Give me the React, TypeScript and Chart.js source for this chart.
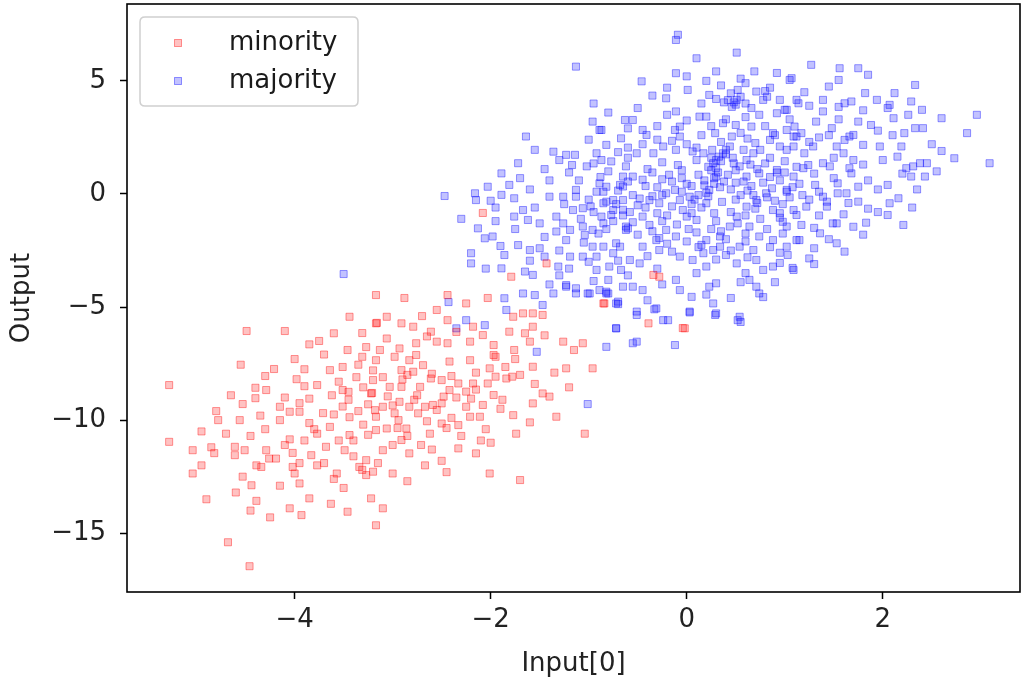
import React, { useEffect, useRef } from "react";
import { Chart, registerables } from "chart.js";

Chart.register(...registerables);

const seriesLabels = ["minority", "majority"];

const minority: number[][] = [
  [-5.28,-8.45],[-5.28,-10.96],[-5.04,-11.33],[-4.85,-11.2],[-4.82,-11.46],[-4.95,-12.0],[-5.04,-12.36],
  [-4.68,-15.4],[-4.46,-16.46],[-4.49,-6.06],[-4.10,-6.06],[-3.60,-6.16],[-3.85,-6.65],[-4.21,-7.74],
  [-3.44,-5.43],[-3.17,-4.47],[-3.46,-6.9],[-3.98,-8.19],[-3.90,-8.5],[-3.77,-8.45],[-4.40,-8.57],
  [-4.29,-8.67],[-4.40,-9.03],[-4.53,-9.29],[-4.78,-10.0],[-4.56,-10.0],[-4.15,-9.41],[-4.05,-9.63],
  [-3.95,-9.63],[-4.15,-10.0],[-3.85,-10.13],[-3.71,-9.69],[-3.64,-7.79],[-3.51,-7.65],[-3.37,-8.1],
  [-3.31,-6.15],[-3.27,-6.77],[-3.31,-7.2],[-3.51,-8.67],[-3.51,-9.4],[-3.44,-9.87],[-3.64,-10.3],
  [-3.21,-8.8],[-3.16,-5.7],[-4.61,-11.18],[-4.61,-11.55],[-4.51,-11.33],[-4.29,-11.33],[-4.26,-11.7],
  [-4.19,-11.7],[-4.39,-12.0],[-4.34,-12.07],[-4.53,-12.5],[-4.44,-12.88],[-4.39,-13.57],[-4.02,-11.45],
  [-4.02,-12.07],[-4.0,-12.36],[-3.95,-11.9],[-3.83,-11.55],[-3.77,-12.0],[-3.68,-11.18],[-3.49,-11.33],
  [-3.57,-12.36],[-3.85,-13.46],[-4.05,-13.9],[-3.93,-14.2],[-3.63,-13.7],[-3.46,-14.05],[-3.31,-12.2],
  [-3.27,-12.43],[-3.34,-12.07],[-3.22,-13.46],[-3.17,-14.65],[-3.9,-10.9],[-3.77,-10.6],[-3.44,-10.66],
  [-3.27,-11.77],[-2.88,-4.6],[-2.44,-4.47],[-2.25,-4.84],[-2.03,-4.6],[-2.55,-5.13],[-2.18,-5.87],
  [-2.44,-5.58],[-3.17,-5.72],[-3.06,-5.43],[-2.91,-5.72],[-2.79,-5.87],[-3.06,-6.39],[-2.93,-6.83],
  [-3.13,-6.9],[-2.76,-6.6],[-2.65,-6.3],[-2.55,-6.53],[-2.44,-6.6],[-2.21,-6.53],[-2.08,-6.24],
  [-1.97,-6.68],[-1.81,-6.09],[-1.65,-6.16],[-1.57,-5.87],[-1.77,-5.43],[-1.67,-5.28],[-1.57,-5.28],
  [-1.47,-5.35],[-0.84,-4.84],[-1.06,-6.6],[-1.26,-6.53],[-0.96,-7.71],[-1.23,-7.71],[-1.33,-9.85],
  [-1.04,-10.6],[-1.60,-6.53],[-1.76,-6.9],[-1.57,-7.64],[-1.78,-8.08],[-1.70,-8.0],[-1.47,-8.82],
  [-1.40,-8.96],[-1.57,-9.26],[-1.77,-9.78],[-1.74,-10.6],[-2.01,-12.36],[-1.70,-12.65],[-2.15,-11.47],
  [-2.33,-11.25],[-2.50,-11.8],[-2.67,-12.0],[-2.71,-11.1],[-2.83,-11.47],[-2.91,-10.88],[-3.0,-12.36],
  [-3.10,-11.33],[-3.20,-12.28],[-3.17,-10.44],[-3.06,-10.37],[-2.94,-10.0],[-2.86,-10.37],[-3.17,-9.85],
  [-3.10,-9.41],[-3.18,-9.56],[-2.83,-9.41],[-2.74,-9.7],[-2.67,-9.41],[-2.93,-9.19],[-2.50,-10.15],
  [-2.33,-10.22],[-2.21,-9.85],[-2.11,-9.85],[-2.25,-9.41],[-2.08,-9.33],[-1.97,-8.89],[-2.59,-9.33],
  [-2.48,-8.96],[-2.50,-9.26],[-2.72,-8.53],[-2.61,-8.16],[-2.50,-8.23],[-2.42,-8.67],[-2.33,-8.38],
  [-2.25,-8.74],[-2.18,-8.38],[-2.03,-8.38],[-1.95,-8.08],[-2.01,-7.71],[-1.84,-8.16],[-2.91,-7.79],
  [-2.79,-7.86],[-2.69,-7.57],[-3.03,-8.53],[-2.91,-8.53],[-3.20,-8.23],[-3.22,-8.82],[-2.42,-7.41],
  [-2.21,-7.35],[-2.83,-7.35],[-2.76,-7.12],[-2.98,-7.2],[-3.17,-7.35],[-1.97,-7.12],[-1.95,-7.2],
  [-2.61,-6.09],[-0.04,-5.93],[-2.08,-0.84],[-1.79,-3.66],[-1.43,-3.07],[-0.85,-4.84],[-0.28,-3.66],
  [-0.34,-3.58],[-0.39,-5.72],[-0.02,-5.94],
  [-3.62,-8.9],[-3.45,-9.1],[-3.35,-9.6],[-3.05,-8.95],[-2.98,-9.7],[-2.85,-10.7],[-3.3,-10.2],
  [-3.55,-10.9],[-3.7,-11.9],[-3.4,-11.6],[-3.0,-11.1],[-2.62,-10.6],[-2.4,-9.9],[-2.3,-10.7],
  [-2.05,-10.4],[-1.88,-9.1],[-2.15,-7.9],[-2.6,-7.95],[-3.1,-8.1],[-3.35,-7.55],[-3.7,-7.1],
  [-4.0,-7.3],[-4.3,-8.05],[-4.65,-8.9],[-4.8,-9.6],[-4.95,-10.5],[-4.7,-10.6],[-4.3,-10.4],
  [-4.05,-10.85],[-3.85,-9.05],[-3.25,-9.3],[-2.75,-8.9],[-2.35,-9.0],[-1.75,-7.3],[-1.55,-8.4],
  [-1.35,-7.9],[-1.2,-8.55],[-1.6,-10.1],[-2.0,-11.0],[-2.45,-12.3],[-2.85,-12.7],[-3.5,-13.0],
  [-3.1,-13.9],[-3.95,-12.8],[-4.15,-12.9],[-4.6,-13.2],[-4.9,-13.5],[-4.45,-14.0],[-4.25,-14.3],
  [-1.15,-6.9],
  [-3.55,-8.3],[-3.3,-8.55],[-3.0,-9.35],[-2.78,-9.1],[-2.55,-9.55],[-2.65,-10.05],[-2.95,-10.35],
  [-3.25,-10.65],[-3.6,-9.75],[-3.8,-10.4],[-4.1,-9.0],[-3.9,-7.75],[-3.2,-7.8],[-2.9,-8.2],[-2.4,-8.05],
  [-2.2,-9.05],[-1.9,-9.5],[-2.1,-10.9],[-2.6,-11.3],[-3.15,-11.9],[-3.6,-12.6],[-4.1,-11.1],
  [-4.45,-10.7],[-4.55,-7.55],[-3.75,-6.5],[-2.35,-6.1],[-1.85,-7.65],[-1.45,-6.25],[-2.7,-5.4],
  [-3.4,-10.9],[-2.45,-10.35],[-2.85,-8.0],[-3.45,-8.75],[-3.95,-9.25],[-4.35,-9.8],[-2.15,-8.65]
];

const majority: number[][] = [
  [-1.13,5.63],[-0.96,3.2],[-1.64,2.54],[-1.55,1.95],[-1.72,1.36],[-1.89,0.91],[-1.81,0.40],[-2.03,0.32],
  [-2.16,0.03],[-2.15,-0.27],[-2.47,-0.09],[-1.89,-0.04],[-1.76,-0.19],[-1.67,-0.71],[-1.76,-1.0],
  [-1.62,-1.15],[-2.13,-1.52],[-2.06,-1.96],[-1.98,-1.88],[-1.72,-2.26],[-1.60,-2.48],[-1.50,-2.40],
  [-2.20,-2.62],[-2.20,-3.07],[-1.86,-2.70],[-1.89,-3.29],[-1.65,-3.43],[-1.57,-3.58],[-1.67,-4.40],
  [-1.55,-4.47],[-1.86,-4.61],[-1.45,-2.77],[-1.31,-3.21],[-1.23,-4.10],[-1.13,-4.17],[-0.99,-4.4],
  [-0.82,-4.4],[-0.70,-4.76],[-1.36,1.87],[-1.30,1.5],[-1.23,1.73],[-1.14,1.73],[-1.17,1.28],[-1.02,1.22],
  [-0.89,2.83],[-0.82,2.17],[-0.67,2.46],[-0.92,1.8],[-0.87,1.5],[-0.77,1.44],[-1.13,0.18],[-1.13,-0.12],
  [-1.26,-0.12],[-1.40,-0.12],[-1.33,-1.0],[-1.26,-1.30],[-1.19,-1.59],[-1.33,-1.66],[-1.23,-2.04],
  [-1.06,-1.44],[-1.04,-1.81],[-0.96,-1.59],[-1.16,-0.71],[-1.06,-0.63],[-0.89,0.47],[-0.92,0.10],
  [-0.82,0.32],[-0.85,-0.41],[-0.75,-0.27],[-0.65,-0.27],[-0.87,-1.0],[-0.77,-0.93],[-0.62,-1.44],
  [-0.72,-2.18],[-0.85,-2.33],[-0.96,-2.33],[-1.19,-2.77],[-1.06,-2.77],[-0.92,-2.77],[-0.92,-3.36],
  [-0.79,-3.21],[-0.67,-3.36],[-0.65,0.77],[-0.65,0.33],[-1.84,-5.13],[-1.47,-4.91],[-1.36,-4.4],
  [-1.23,-4.03],[-1.13,-4.4],[-1.01,-4.4],[-0.89,-4.25],[-0.80,-4.4],[-0.72,-4.84],[-0.72,-5.94],
  [-0.82,-6.76],[-1.01,-9.29],[-2.25,-5.58],[-2.35,-5.94],[-2.06,-5.8],[-3.5,-3.54],[-2.43,-4.78],
  [-1.53,-6.98],
  [-0.09,7.04],[-0.11,6.81],[0.51,6.25],[-0.46,4.98],[-0.11,5.34],[0.0,5.2],[0.30,5.42],[0.69,5.42],
  [0.01,4.6],[0.23,4.38],[-0.21,4.23],[0.51,4.16],[0.48,4.05],[0.71,4.53],[0.78,4.16],[0.95,4.16],
  [1.12,4.16],[1.05,5.04],[-0.11,3.65],[-0.07,2.98],[0.13,3.42],[0.20,3.42],[0.37,3.13],[0.66,3.8],
  [0.66,2.98],[0.74,3.5],[0.92,3.57],[1.02,3.72],[-0.63,3.27],[-0.55,3.27],[-0.45,2.83],[-0.41,2.61],
  [-0.87,2.83],[-0.51,1.8],[-0.34,1.8],[-0.24,2.1],[-0.11,1.95],[0.06,1.88],[0.17,1.8],[0.29,2.69],
  [0.46,2.54],[0.30,1.5],[0.37,1.8],[0.44,2.1],[0.33,1.65],[0.40,1.95],[0.58,1.95],[0.68,1.8],
  [0.61,1.5],[0.85,2.39],[0.95,2.1],[0.88,2.69],[1.02,2.83],[1.12,2.54],[-0.12,2.83],[-0.07,2.54],
  [1.27,5.71],[1.56,5.56],[1.75,5.56],[1.85,5.27],[1.07,5.12],[1.55,5.04],[2.33,4.82],[2.12,4.46],
  [1.82,4.46],[1.39,4.16],[1.61,4.01],[1.68,4.09],[1.94,4.16],[2.07,3.94],[2.05,3.8],[2.29,4.09],
  [2.40,3.72],[2.26,3.5],[2.11,3.35],[2.60,3.35],[2.96,3.5],[1.14,4.01],[1.0,3.72],[1.39,3.65],
  [1.32,3.2],[1.48,2.91],[1.88,3.05],[2.22,2.69],[2.33,2.91],[2.41,2.91],[2.86,2.69],[1.10,2.98],
  [1.09,2.54],[1.17,2.69],[1.29,2.1],[1.02,1.95],[1.09,2.1],[1.66,2.54],[1.61,2.39],[1.70,2.61],
  [1.80,2.17],[1.97,2.1],[2.19,2.1],[1.53,2.1],[1.60,1.8],[2.73,1.58],[3.09,1.36],[2.24,1.14],
  [2.31,1.22],[2.38,1.36],[2.45,1.36],[2.29,0.77],[2.43,0.77],[1.24,1.28],[1.19,1.14],[1.39,1.36],
  [1.46,1.22],[1.66,1.14],[1.68,0.91],[1.31,0.4],[1.09,0.77],[1.02,0.1],[1.54,0.47],[1.54,0.03],
  [1.63,0.03],[1.75,0.32],[1.75,-0.34],[1.43,-0.34],[1.43,-0.56],[1.39,-0.12],[2.05,0.4],[2.07,-0.41],
  [2.16,-0.19],[2.05,-0.93],[1.22,-0.56],[1.12,-0.93],[1.17,-1.37],[0.98,-1.23],[1.49,-1.3],[1.53,-1.3],
  [1.83,-1.27],[2.21,-1.37],[1.36,-1.74],[1.15,-2.04],[1.02,-2.33],[1.03,-2.7],[1.53,-2.18],[1.61,-2.55],
  [1.09,-3.36],
  [-0.09,1.28],[0.27,1.36],[0.30,0.77],[0.23,0.18],[0.20,-0.41],[0.25,1.05],[0.28,0.45],[0.22,-0.1],
  [0.54,1.22],[0.61,0.77],[0.74,0.91],[0.92,1.06],[1.02,0.18],[-0.62,1.22],[-0.55,0.77],[-0.68,0.4],
  [-0.45,0.63],[-0.82,-0.34],[-0.75,-0.71],[-0.85,-1.3],[-0.62,-1.59],[-0.60,-1.52],[-0.38,-0.27],
  [-0.28,-0.41],[-0.21,0.03],[-0.07,-0.27],[0.03,-0.12],[-0.04,-0.71],[0.0,-1.0],[0.10,-1.15],
  [-0.45,-1.0],[-0.38,-1.37],[-0.21,-1.59],[-0.11,-1.88],[0.0,-2.1],[0.20,-2.04],[0.34,-1.88],
  [0.44,-1.44],[0.51,-1.0],[0.61,-0.56],[0.71,-0.27],[0.81,0.03],[0.88,-0.71],[0.64,-1.44],[0.74,-1.88],
  [0.88,-2.04],[1.02,-1.44],[1.09,-0.71],[1.12,-2.04],[0.54,-2.33],[0.68,-2.48],[0.27,-2.48],[0.34,-2.33],
  [0.17,-2.62],[-0.31,-2.04],[-0.28,-2.48],[-0.45,-2.33],[-0.68,-2.33],[-0.75,-2.62],[-0.58,-2.92],
  [-0.48,-3.07],[-0.07,-2.77],[0.06,-2.92],[0.20,-3.21],[0.51,-3.07],[0.71,-2.92],[0.78,-3.36],
  [0.88,-3.21],[-0.11,-3.8],[-0.07,-4.25],[0.30,-3.95],[0.23,-4.1],[0.64,-3.8],[0.71,-4.1],[-0.65,-4.1],
  [-0.55,-4.1],[-0.45,-4.25],[0.74,-4.4],[-0.51,-5.2],[-0.31,-5.06],[0.03,-5.2],[0.27,-4.84],[0.30,-5.28],
  [0.54,-5.43],[-0.82,-4.32],
  [-0.70,-4.87],[-0.51,-5.35],[-0.33,-5.1],[-0.24,-5.58],[0.03,-5.24],[0.29,-5.35],[0.52,-5.58],
  [-0.72,-5.94],[-0.51,-6.53],[-0.12,-6.68],[-0.55,-6.6],[-0.19,-5.58],[0.55,-5.66],[0.78,-4.56],
  [1.08,-3.27],
  [-0.95,-0.8],[-0.5,-0.5],[-0.3,0.3],[-0.15,0.55],[0.05,0.35],[0.12,0.85],[0.38,0.55],[0.45,0.2],
  [0.5,-0.25],[0.62,0.15],[0.78,0.5],[0.95,0.6],[0.9,-0.3],[0.75,-1.1],[0.45,-0.8],[0.3,-1.2],
  [0.15,-0.6],[-0.1,-1.35],[-0.3,-0.85],[-0.55,-0.05],[-0.65,-0.7],[-0.4,1.1],[-0.25,1.4],[-0.05,1.05],
  [0.1,1.5],[0.35,2.3],[0.55,2.7],[0.7,2.25],[0.85,1.6],[1.0,1.45],[1.2,1.8],[1.3,0.9],[1.35,0.1],
  [1.25,-0.25],[0.98,-0.45],[0.82,-1.55],[0.6,-1.75],[0.4,-2.0],[0.1,-1.7],[-0.2,-2.2],[-0.5,-1.8],
  [-0.75,-1.2],[-1.0,-0.25],[-1.1,0.6],[-0.8,1.0],[-0.6,1.6],[-0.3,2.4],[0.0,2.2],[0.15,2.6],[0.4,3.3],
  [0.6,3.4],[0.8,3.0],[1.05,3.3],[-0.3,3.0],[-0.8,3.6],[-0.2,4.7],[0.35,4.8],[0.6,4.9],[0.85,4.7],
  [0.4,-2.7],[0.6,-3.5],[0.95,-2.6],[1.3,-2.4],[0.1,-3.5],[-0.3,-3.3],[-0.8,-3.8],[-1.0,-3.0],
  [-1.3,-3.6],[-1.45,-1.9],[-1.55,-0.6],[-1.4,0.6],[-1.6,0.2],[-1.95,-0.6],[-2.3,-1.1],[-1.9,-2.3],
  [-2.05,-3.3],[-1.4,-4.0],[-0.4,-4.7],[0.05,-4.55],[0.45,-4.6],[0.9,-3.9],[1.3,-3.1],[1.8,-1.8],
  [1.95,-0.8],[2.35,0.2],[2.55,1.0],[2.0,1.5],[1.85,0.6],[1.5,0.7],[1.35,2.5],[1.55,3.3],[1.8,3.7],
  [2.5,2.2],[0.2,0.05],[0.32,0.95],[0.48,1.35],[0.26,1.95],[0.42,4.15],[0.5,3.95],[0.55,4.3],
  [-0.18,0.85],[-0.42,-0.6],[0.05,-0.45],[0.68,-0.05],[0.58,0.55],[0.82,-0.15],[-0.65,-0.95],
  [-0.9,-1.75],[-0.2,-0.95],[0.25,-1.55],[0.72,1.1],[1.15,0.45],[-0.35,-1.65],[-0.7,0.15],[0.15,-2.25],
  [-0.6,2.05],[0.95,-1.05],[1.6,-0.9],[1.7,1.5],[2.1,2.6],[0.5,0.5],[0.36,-0.35],[-0.05,0.7],
  [-0.25,-0.05],[0.92,0.95],[1.18,-0.05],
  [-0.35,0.95],[-0.12,0.18],[0.08,-0.25],[0.18,0.6],[0.42,0.85],[0.55,-0.05],[0.66,0.35],[0.87,0.25],
  [1.05,-0.15],[0.95,-0.85],[0.7,-0.65],[0.52,-1.3],[0.28,-0.85],[0.05,-0.85],[-0.15,-0.55],[-0.48,-0.2],
  [-0.6,0.55],[-0.88,0.75],[-0.98,-0.55],[-1.08,-1.1],[-0.82,-1.55],[-0.55,-1.25],[-0.25,-1.2],
  [0.02,-1.55],[0.35,-1.65],[0.6,-2.1],[0.85,-2.35],[0.3,-2.9],[-0.15,-2.55],[-0.4,-2.75],[-0.7,-2.95],
  [-1.05,-2.15],[-1.3,-2.5],[-1.5,-1.3],[-1.25,-0.45],[-1.2,0.95],[-0.95,1.35],[-0.7,1.85],[-0.45,2.2],
  [-0.15,2.35],[0.1,2.05],[0.22,1.2],[0.3,1.15],[0.35,1.45],[0.25,1.6],[0.4,1.75],[0.47,1.6],[0.5,1.05],
  [0.65,1.3],[0.8,1.35],[0.75,1.95],[0.9,2.6],[0.62,2.45],[0.5,3.05],[0.25,3.0],[0.0,3.25],[-0.2,3.5],
  [-0.5,3.8],[0.15,4.0],[0.3,4.2],[0.45,4.45],[0.6,4.0],[0.82,4.3],[1.2,4.5],[1.45,4.75],[1.25,3.9],
  [1.55,3.85],[1.75,3.2],[1.95,2.8],[1.45,2.6],[1.25,2.3],[1.5,1.6],[1.8,1.3],[2.15,1.65],[2.6,1.9],
  [2.2,0.9],[1.95,0.2],[1.65,-0.4],[1.85,-0.65],[2.3,-0.6],[1.35,-0.95],[1.3,-1.5],[1.7,-1.45],
  [1.45,-2.0],[1.25,-2.85],[0.95,-3.05],[0.55,-3.9],[0.2,-4.45],[-0.25,-4.0],[-0.6,-3.6],[-0.95,-3.85],
  [-1.2,-3.3],[-1.6,-2.95],[-1.75,-1.55],[-1.95,-1.2],[-2.0,-0.3],[-1.7,0.7],[-1.45,1.1],[-1.0,2.4],
  [-0.6,2.9],[-0.95,4.0],[-0.35,4.35],[0.2,5.0],[0.55,5.1],[0.92,5.35],[0.1,6.0],[0.8,4.55],[0.38,4.05],
  [0.46,3.85],[0.52,4.6],[-0.05,0.1],[0.12,-0.05],[0.34,0.3],[0.18,0.38],[-0.25,0.65],[-0.42,0.35],
  [0.72,-0.4],[0.6,-0.95],[0.85,0.75],[1.0,0.95],[1.12,1.2],[1.08,0.3],[-0.72,-0.45],[-0.58,-0.8],
  [-0.28,-1.95],[0.12,-2.35],[0.45,-2.5],[0.62,-2.8],[0.98,-1.75],[-0.85,0.1],[-0.35,-0.1],[0.0,0.45],
  [0.28,0.7]
];

const xTicks = [-4, -2, 0, 2];
const yTicks = [-15, -10, -5, 0, 5];
const xLimits = [-5.71, 3.4];
const yLimits = [-17.6, 8.4];
const xTitle = "Input[0]";
const yTitle = "Output";

const FONT = "'DejaVu Sans', sans-serif";
const FONT_SIZE = 26;

const fmt = (v: number) => (v < 0 ? "\u2212" + Math.abs(v) : String(v));

const framePlugin = {
  id: "frameAndLegend",
  afterDraw(chart: any) {
    const { ctx, chartArea } = chart;
    ctx.save();
    ctx.strokeStyle = "#000";
    ctx.lineWidth = 1.6;
    ctx.strokeRect(chartArea.left, chartArea.top, chartArea.right - chartArea.left, chartArea.bottom - chartArea.top);

    const bx = chartArea.left + 13;
    const by = chartArea.top + 13;
    const bw = 218;
    const bh = 89;
    const r = 5;
    ctx.beginPath();
    ctx.moveTo(bx + r, by);
    ctx.lineTo(bx + bw - r, by);
    ctx.quadraticCurveTo(bx + bw, by, bx + bw, by + r);
    ctx.lineTo(bx + bw, by + bh - r);
    ctx.quadraticCurveTo(bx + bw, by + bh, bx + bw - r, by + bh);
    ctx.lineTo(bx + r, by + bh);
    ctx.quadraticCurveTo(bx, by + bh, bx, by + bh - r);
    ctx.lineTo(bx, by + r);
    ctx.quadraticCurveTo(bx, by, bx + r, by);
    ctx.closePath();
    ctx.fillStyle = "rgba(255,255,255,0.8)";
    ctx.fill();
    ctx.strokeStyle = "#d0d0d0";
    ctx.lineWidth = 1.5;
    ctx.stroke();

    chart.data.datasets.forEach((ds: any, i: number) => {
      const cy = by + 26 + i * 38;
      const cx = bx + 38;
      const s = 7;
      ctx.fillStyle = ds.backgroundColor;
      ctx.strokeStyle = ds.borderColor;
      ctx.lineWidth = 1;
      ctx.fillRect(cx - s / 2, cy - s / 2, s, s);
      ctx.strokeRect(cx - s / 2, cy - s / 2, s, s);
      ctx.fillStyle = "#1a1a1a";
      ctx.font = `${FONT_SIZE}px ${FONT}`;
      ctx.textAlign = "left";
      ctx.textBaseline = "middle";
      ctx.fillText(ds.label, bx + 89, cy);
    });
    ctx.restore();
  },
};

export default function App() {
  const ref = useRef<HTMLCanvasElement | null>(null);

  useEffect(() => {
    if (!ref.current) return;
    const chart = new Chart(ref.current, {
      type: "scatter",
      data: {
        datasets: [
          {
            label: seriesLabels[0],
            data: minority.map(([x, y]) => ({ x, y })),
            backgroundColor: "rgba(255,0,0,0.24)",
            borderColor: "rgba(255,0,0,0.4)",
            borderWidth: 1,
            pointStyle: "rect",
            pointRadius: 5,
          },
          {
            label: seriesLabels[1],
            data: majority.map(([x, y]) => ({ x, y })),
            backgroundColor: "rgba(0,0,255,0.24)",
            borderColor: "rgba(0,0,255,0.4)",
            borderWidth: 1,
            pointStyle: "rect",
            pointRadius: 5,
          },
        ],
      },
      options: {
        animation: false,
        responsive: true,
        maintainAspectRatio: false,
        layout: { autoPadding: false, padding: { left: 0, top: 4, right: 2, bottom: 0 } },
        plugins: {
          legend: { display: false },
          tooltip: { enabled: false },
        },
        scales: {
          x: {
            type: "linear",
            min: xLimits[0],
            max: xLimits[1],
            afterBuildTicks: (scale: any) => {
              scale.ticks = xTicks.map((v) => ({ value: v }));
            },
            afterFit: (scale: any) => {
              scale.height = 88;
              scale.paddingLeft = 0;
              scale.paddingRight = 0;
            },
            border: { display: false },
            grid: {
              drawOnChartArea: false,
              drawTicks: true,
              tickLength: 7,
              tickColor: "#000",
              tickWidth: 1.5,
            },
            ticks: {
              callback: (v: any) => fmt(Number(v)),
              font: { family: FONT, size: FONT_SIZE },
              color: "#222",
              padding: 6,
              maxRotation: 0,
            },
            title: {
              display: true,
              text: xTitle,
              font: { family: FONT, size: FONT_SIZE },
              color: "#222",
              padding: { top: 6, bottom: 0 },
            },
          },
          y: {
            type: "linear",
            min: yLimits[0],
            max: yLimits[1],
            afterBuildTicks: (scale: any) => {
              scale.ticks = yTicks.map((v) => ({ value: v }));
            },
            afterFit: (scale: any) => {
              scale.width = 127;
              scale.paddingTop = 0;
              scale.paddingBottom = 0;
            },
            border: { display: false },
            grid: {
              drawOnChartArea: false,
              drawTicks: true,
              tickLength: 7,
              tickColor: "#000",
              tickWidth: 1.5,
            },
            ticks: {
              callback: (v: any) => fmt(Number(v)),
              font: { family: FONT, size: FONT_SIZE },
              color: "#222",
              padding: 14,
            },
            title: {
              display: true,
              text: yTitle,
              font: { family: FONT, size: FONT_SIZE },
              color: "#222",
              padding: { top: 7, bottom: 0 },
            },
          },
        },
      },
      plugins: [framePlugin],
    });
    return () => chart.destroy();
  }, []);

  return (
    <div style={{ position: "fixed", left: 0, top: 0, width: 1022, height: 680, background: "#fff" }}>
      <canvas ref={ref} />
    </div>
  );
}
